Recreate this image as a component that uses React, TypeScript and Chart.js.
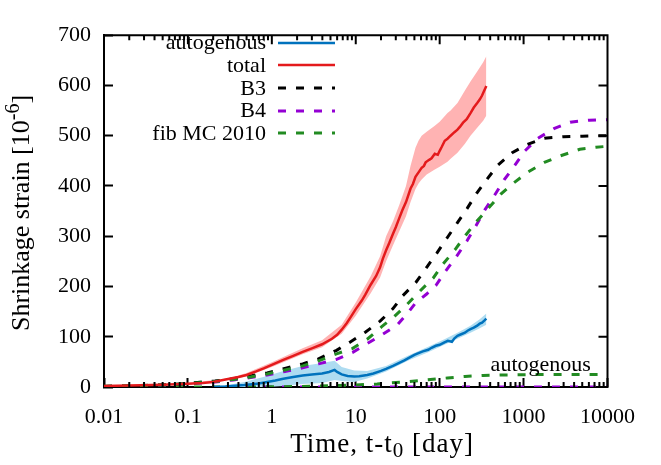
import React, { useEffect, useRef } from "react";
import { Chart, registerables } from "chart.js";

Chart.register(...registerables);

// ---------- data ----------
const xTickValues = [0.01, 0.1, 1, 10, 100, 1000, 10000];
const xTickLabels = ["0.01", "0.1", "1", "10", "100", "1000", "10000"];
const xMinorMultipliers = [2, 3, 4, 5, 6, 7, 8, 9];
const yTickValues = [0, 100, 200, 300, 400, 500, 600, 700];
const legendNames = ["autogenous", "total", "B3", "B4", "fib MC 2010"];
const annotationText = "autogenous";
const annotationT = 1600;
const annotationV = 32;

const totalT = [0.01, 0.02, 0.05, 0.1, 0.15, 0.2, 0.28, 0.4, 0.5, 0.65, 0.8, 1, 1.37, 1.8, 2.33, 3, 3.97, 5.2, 6, 6.8, 7.8, 8.7, 10, 11.8, 13, 15, 17.5, 19.5, 21, 23, 25, 27.8, 30, 33, 36, 39.7, 45, 48, 51.5, 56, 61, 65, 68, 75, 80, 87.5, 95, 100, 106, 115, 124, 135, 150, 163, 175, 190, 210, 233, 255, 280, 300, 320, 340, 360];
const totalMean = [2, 3, 4.5, 6.5, 8, 10, 15, 20, 24, 31, 37, 44, 54, 62, 70, 77, 85, 96, 104, 114, 127, 139, 155, 172, 184, 203, 221, 238, 255, 272, 286, 305, 318, 336, 352, 368, 395, 404, 418, 427, 436, 440, 447, 452, 455, 464, 462, 470, 478, 490, 494, 500, 507, 512, 518, 526, 533, 545, 556, 565, 572, 580, 590, 599];

const totalBandT = [0.01, 0.1, 0.3, 0.5, 1, 2.33, 3.97, 6.8, 10, 15, 19.5, 23, 27.8, 33, 39.7, 45, 51.5, 56, 61, 70, 87.5, 100, 124, 135, 163, 200, 233, 280, 330, 360];
const totalLo = [1, 5, 14, 21, 40, 65, 79, 106, 142, 186, 218, 250, 282, 310, 340, 368, 394, 405, 413, 423, 433, 438, 448, 454, 466, 484, 500, 516, 530, 540];
const totalHi = [3, 8, 17, 28, 49, 77, 93, 124, 168, 220, 260, 300, 330, 362, 400, 440, 476, 490, 500, 508, 520, 528, 545, 550, 565, 590, 608, 628, 646, 658];

const autoT = [0.2, 0.28, 0.47, 0.7, 0.88, 1.1, 1.37, 1.8, 2.33, 3, 3.97, 4.8, 5.6, 6, 6.8, 8, 9.6, 11, 13.7, 16.2, 20, 23, 27.8, 33, 38, 43, 50, 55, 63, 73, 80, 90, 100, 114, 125, 140, 150, 163, 180, 200, 215, 233, 255, 280, 300, 320, 340, 360];
const autoMean = [0, 1, 4, 7, 10, 13, 16.5, 20, 23, 25, 27, 30, 34, 30, 25, 22, 21, 21.5, 24, 27, 32, 36, 42, 48, 53, 58, 64, 67, 71, 74, 78, 82, 84, 89, 92, 90, 97, 102, 105, 108, 112, 115, 118, 122, 126, 128, 132, 136];

const autoBandT = [0.2, 0.3, 0.47, 0.88, 1.37, 2.33, 3.97, 5.6, 6.8, 9.6, 13.7, 23, 43, 73, 114, 163, 233, 300, 360];
const autoLo = [0, 0, 0, 0, 2, 6, 8, 14, 12, 10, 17, 31, 53, 69, 84, 96, 108, 117, 124];
const autoHi = [1, 4, 10, 22, 32, 42, 48, 52, 40, 33, 32, 42, 63, 80, 95, 108, 122, 135, 146];

const b3T = [0.01, 0.02, 0.03, 0.05, 0.081, 0.13, 0.21, 0.35, 0.56, 0.88, 1.43, 2.33, 3.6, 5.9, 8.7, 13, 19.5, 27.8, 36, 52, 70, 93, 123, 163, 212, 277, 377, 491, 731, 1089, 1770, 3000, 5000, 7950, 10000];
const b3Vals = [1, 2, 3, 4, 6, 9, 12, 16.5, 22, 28, 37, 46, 56, 73, 90, 109, 131, 156, 181, 208, 238, 267, 297, 327, 355, 386, 416, 441, 466, 482, 495, 498, 499, 500, 500];

const b4T = [0.01, 0.05, 0.1, 0.21, 0.35, 0.56, 0.88, 1.43, 2.33, 3.6, 5.9, 9.2, 14.2, 21, 31.5, 43, 52, 70, 90, 118, 159, 212, 271, 344, 449, 586, 785, 1040, 1480, 2300, 3590, 6110, 10000];
const b4Vals = [1, 3.5, 6, 10, 14, 19, 24, 31, 38, 46, 55, 69, 88, 105, 124, 150, 168, 185, 202, 231, 260, 291, 321, 352, 381, 412, 441, 470, 495, 514, 527, 531, 532];

const fibT = [0.01, 0.05, 0.1, 0.21, 0.35, 0.56, 0.88, 1.43, 2.33, 3.6, 5.9, 9.2, 13.7, 20.4, 28.7, 38, 56, 84, 110, 152, 204, 277, 387, 536, 762, 1135, 1770, 2750, 4680, 7280, 10000];
const fibVals = [1.5, 4, 6.5, 11, 15, 20, 26, 34, 42, 52, 66, 77, 95, 120, 140, 159, 188, 217, 245, 273, 302, 330, 357, 384, 406, 428, 447, 460, 473, 477, 479];

const fibAutoT = [0.01, 0.5, 1, 2, 3, 5, 10, 18, 40, 70, 124, 200, 330, 600, 1000, 3000, 10000];
const fibAutoVals = [0, 0, 0.5, 1, 1.5, 2.5, 4, 6, 10.5, 14, 18, 21, 23, 24, 24.5, 25, 25];

const b4AutoT = [0.3, 1, 10, 100, 1000, 10000];
const b4AutoVals = [0, 0, 0, 0, 0, 0];

// ---------- styling ----------
const FONT = "'Liberation Serif', 'Times New Roman', serif";
const BLUE = "#0072bd";
const BLUE_BAND = "#aedcf1";
const RED = "#e41a1c";
const RED_BAND = "#ffb3b3";
const PURPLE = "#9400d3";
const GREEN = "#228b22";
const DASH = [8, 10];
const AXIS = "#000000";

const pts = (t: number[], v: number[]) => t.map((x, i) => ({ x, y: v[i] }));

type Part = { text: string; size: number; dy: number };

function partsWidth(ctx: CanvasRenderingContext2D, parts: Part[]) {
  let w = 0;
  for (const p of parts) {
    ctx.font = `${p.size}px ${FONT}`;
    w += ctx.measureText(p.text).width;
  }
  return w;
}

function drawParts(ctx: CanvasRenderingContext2D, parts: Part[], startX: number, baseY: number) {
  let x = startX;
  for (const p of parts) {
    ctx.font = `${p.size}px ${FONT}`;
    ctx.fillText(p.text, x, baseY + p.dy);
    x += ctx.measureText(p.text).width;
  }
}

const plotPlugin = {
  id: "plotExtras",
  afterDatasetsDraw(chart: any) {
    const { ctx, scales } = chart;
    ctx.save();
    ctx.font = `22px ${FONT}`;
    ctx.textAlign = "right";
    ctx.textBaseline = "middle";
    legendNames.forEach((name, i) => {
      const ds = chart.data.datasets.find((d: any) => d.label === name);
      if (!ds) return;
      const y = 42.5 + i * 22.7;
      ctx.fillStyle = "#000";
      ctx.fillText(name, 266, y + 1);
      ctx.strokeStyle = ds.borderColor;
      ctx.lineWidth = ds.borderWidth;
      ctx.setLineDash(ds.borderDash || []);
      ctx.beginPath();
      ctx.moveTo(278, Math.round(y));
      ctx.lineTo(335, Math.round(y));
      ctx.stroke();
      ctx.setLineDash([]);
    });
    ctx.fillStyle = "#000";
    ctx.textAlign = "center";
    ctx.textBaseline = "alphabetic";
    ctx.font = `22px ${FONT}`;
    ctx.fillText(annotationText, scales.x.getPixelForValue(annotationT), scales.y.getPixelForValue(annotationV));
    ctx.restore();
  },
  afterDraw(chart: any) {
    const ctx = chart.ctx;
    const area = chart.chartArea;
    const xs = chart.scales.x;
    const ys = chart.scales.y;
    ctx.save();
    // mirror frame (top + right) and minor ticks, as strokes
    ctx.strokeStyle = AXIS;
    ctx.lineWidth = 2;
    ctx.setLineDash([]);
    ctx.beginPath();
    ctx.moveTo(area.left - 1, area.top);
    ctx.lineTo(area.right + 1, area.top);
    ctx.moveTo(area.right, area.top);
    ctx.lineTo(area.right, area.bottom);
    for (const v of yTickValues) {
      const py = ys.getPixelForValue(v);
      ctx.moveTo(area.right, py);
      ctx.lineTo(area.right - 9, py);
    }
    xTickValues.forEach((d, i) => {
      const px = xs.getPixelForValue(d);
      ctx.moveTo(px, area.top);
      ctx.lineTo(px, area.top + 9);
      if (i === xTickValues.length - 1) return;
      xMinorMultipliers.forEach((k) => {
        const mx = xs.getPixelForValue(k * d);
        ctx.moveTo(mx, area.top);
        ctx.lineTo(mx, area.top + 5);
        ctx.moveTo(mx, area.bottom);
        ctx.lineTo(mx, area.bottom - 5);
      });
    });
    ctx.stroke();
    // titles
    ctx.fillStyle = "#000";
    ctx.textAlign = "left";
    ctx.textBaseline = "alphabetic";
    try { (ctx as any).letterSpacing = "1px"; } catch (e) {}
    const xParts: Part[] = [
      { text: "Time, t-t", size: 27, dy: 0 },
      { text: "0", size: 21, dy: 5 },
      { text: " [day]", size: 27, dy: 0 },
    ];
    const xw = partsWidth(ctx, xParts);
    drawParts(ctx, xParts, 382 - xw / 2, 452);
    try { (ctx as any).letterSpacing = "0px"; } catch (e) {}
    ctx.translate(29, 213);
    ctx.rotate(-Math.PI / 2);
    const yParts: Part[] = [
      { text: "Shrinkage strain [10", size: 26, dy: 0 },
      { text: "-6", size: 20, dy: -10 },
      { text: "]", size: 26, dy: 0 },
    ];
    const yw = partsWidth(ctx, yParts);
    drawParts(ctx, yParts, -yw / 2, 0);
    ctx.restore();
  },
};

export default function App() {
  const ref = useRef<HTMLCanvasElement | null>(null);
  useEffect(() => {
    if (!ref.current) return;
    const line = (label: string | undefined, data: any, color: string, width: number, dash: number[], order: number) => ({
      label,
      data,
      borderColor: color,
      backgroundColor: color,
      borderWidth: width,
      borderDash: dash,
      pointRadius: 0,
      tension: 0,
      fill: false,
      order,
    });
    const chart = new Chart(ref.current, {
      type: "line",
      data: {
        datasets: [
          { data: pts(totalBandT, totalLo), borderWidth: 0, borderColor: "rgba(0,0,0,0)", backgroundColor: RED_BAND, pointRadius: 0, fill: false, order: 20 },
          { data: pts(totalBandT, totalHi), borderWidth: 0, borderColor: "rgba(0,0,0,0)", backgroundColor: RED_BAND, pointRadius: 0, fill: "-1", order: 20 },
          { data: pts(autoBandT, autoLo), borderWidth: 0, borderColor: "rgba(0,0,0,0)", backgroundColor: BLUE_BAND, pointRadius: 0, fill: false, order: 19 },
          { data: pts(autoBandT, autoHi), borderWidth: 0, borderColor: "rgba(0,0,0,0)", backgroundColor: BLUE_BAND, pointRadius: 0, fill: "-1", order: 19 },
          line("B3", pts(b3T, b3Vals), "#000000", 3, DASH, 5),
          line("B4", pts(b4T, b4Vals), PURPLE, 3, DASH, 6),
          line("fib MC 2010", pts(fibT, fibVals), GREEN, 3, DASH, 4),
          line(undefined, pts(b4AutoT, b4AutoVals), PURPLE, 3, DASH, 7),
          line(undefined, pts(fibAutoT, fibAutoVals), GREEN, 3, DASH, 6),
          line("autogenous", pts(autoT, autoMean), BLUE, 2.5, [], 2),
          line("total", pts(totalT, totalMean), RED, 2.5, [], 1),
        ] as any,
      },
      options: {
        animation: false,
        responsive: false,
        devicePixelRatio: 1,
        layout: { padding: { left: 0, right: 36, top: 19, bottom: 0 } },
        plugins: { legend: { display: false }, tooltip: { enabled: false } },
        scales: {
          x: {
            type: "logarithmic",
            position: "bottom",
            min: 0.01,
            max: 10000,
            grid: {
              display: true,
              drawOnChartArea: false,
              drawTicks: true,
              tickLength: -9,
              tickWidth: 2,
              tickColor: AXIS,
              color: AXIS,
            },
            border: { display: true, color: AXIS, width: 2 },
            afterBuildTicks: (scale: any) => {
              scale.ticks = xTickValues.map((v) => ({ value: v }));
            },
            afterFit: (scale: any) => {
              scale.height = 78;
            },
            ticks: {
              autoSkip: false,
              maxRotation: 0,
              padding: 26,
              font: { size: 22, family: FONT },
              color: "#000",
              callback: (_v: any, i: number) => xTickLabels[i],
            },
          },
          y: {
            type: "linear",
            position: "left",
            min: 0,
            max: 700,
            grid: {
              display: true,
              drawOnChartArea: false,
              drawTicks: true,
              tickLength: -9,
              tickWidth: 2,
              tickColor: AXIS,
              color: AXIS,
            },
            border: { display: true, color: AXIS, width: 2 },
            afterBuildTicks: (scale: any) => {
              scale.ticks = yTickValues.map((v) => ({ value: v }));
            },
            afterFit: (scale: any) => {
              scale.width = 104;
            },
            ticks: {
              padding: 22,
              font: { size: 22, family: FONT },
              color: "#000",
              callback: (v: any) => String(v),
            },
          },
        },
      } as any,
      plugins: [plotPlugin],
    });
    return () => chart.destroy();
  }, []);
  return (
    <div style={{ position: "absolute", left: 0, top: 0, width: 661, height: 465, background: "#fff" }}>
      <canvas ref={ref} width={661} height={465} style={{ width: 661, height: 465, display: "block" }} />
    </div>
  );
}
